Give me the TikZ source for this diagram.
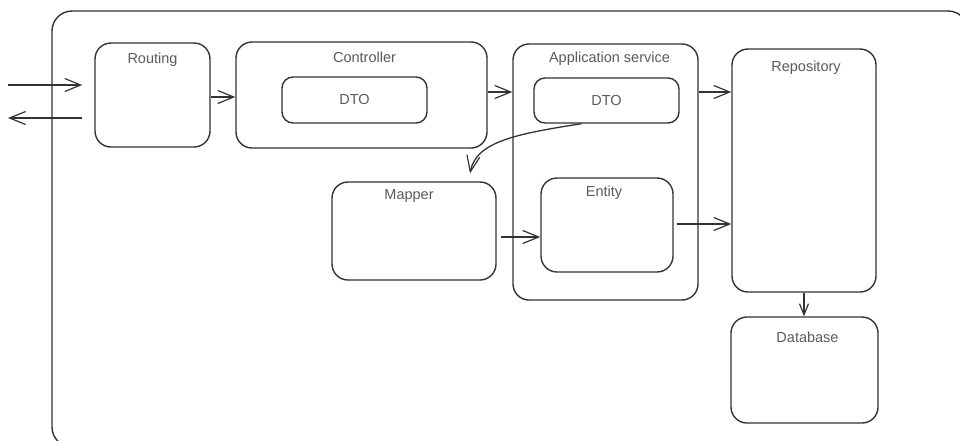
\documentclass[tikz,border=0pt]{standalone}
\usepackage{fontspec}
\setmainfont{Liberation Sans}
\usetikzlibrary{arrows.meta,calc}

\definecolor{edge}{HTML}{333333}
\definecolor{txt}{HTML}{5A5A5A}

\tikzset{
  box/.style={draw=edge, line width=1.4pt, rounded corners=#1, inner sep=0pt},
  box/.default=16pt,
  lbl/.style={text=txt, font=\fontsize{14.5}{17}\selectfont, inner sep=0pt},
  arr/.style={draw=edge, line width=1.3pt,
    -{Straight Barb[length=16pt,width=13pt,line width=1.2pt]}},
  arrs/.style={draw=edge, line width=1.3pt,
    -{Straight Barb[length=11pt,width=9pt,line width=1.2pt]}}
}

\begin{document}
\begin{tikzpicture}[x=1pt,y=-1pt]
  \useasboundingbox (0,0) rectangle (960,440);

  % outer frame, running just past the right and bottom edges
  \begin{scope}
    \clip (0,0) rectangle (960,440);
    \draw[draw=edge, line width=1.4pt, rounded corners=20pt] (52,11) rectangle (968,447);
  \end{scope}

  % boxes
  \node[box, minimum width=115, minimum height=104] (routing) at (152.5,95) {};
  \node[box, minimum width=251, minimum height=106] (controller) at (361.5,95) {};
  \node[box=11pt, minimum width=145, minimum height=46] (cdto) at (354.5,100) {};
  \node[box, minimum width=185, minimum height=256] (appsvc) at (605.5,172) {};
  \node[box=11pt, minimum width=145, minimum height=45] (adto) at (606.5,100.5) {};
  \node[box, minimum width=132, minimum height=94] (entity) at (607,225) {};
  \node[box, minimum width=164, minimum height=98] (mapper) at (414,231) {};
  \node[box, minimum width=144, minimum height=243] (repo) at (804,170.5) {};
  \node[box, minimum width=147, minimum height=106] (db) at (804.5,370) {};

  % labels
  \node[lbl] (routingL) at ($(routing.north)+(0,17)$) {Routing};
  \node[lbl] (controllerL) at ($(controller.north)+(3,16)$) {Controller};
  \node[lbl] (cdtoL) at (cdto.center) {DTO};
  \node[lbl] (appsvcL) at ($(appsvc.north)+(4,15)$) {Application service};
  \node[lbl] (adtoL) at (adto.center) {DTO};
  \node[lbl] (entityL) at ($(entity.north)+(-3,15)$) {Entity};
  \node[lbl] (mapperL) at ($(mapper.north)+(-5,15)$) {Mapper};
  \node[lbl] (repoL) at ($(repo.north)+(2,19)$) {Repository};
  \node[lbl] (dbL) at ($(db.north)+(3,21)$) {Database};

  % request / response ends
  \coordinate (inS) at (8,85);
  \coordinate (outE) at (8,118);

  % connectors
  \draw[arr] (inS) -- ($(routing.west)+(-12,-10)$);
  \draw[arr] ($(routing.west)+(-12,23)$) -- (outE);
  \draw[arr] ($(routing.east)+(0,2)$) -- ($(controller.west)+(0,2)$);
  \draw[arr] ($(controller.east)+(0,-3)$) -- ($(appsvc.west)+(0,-80)$);
  \draw[arr] ($(appsvc.east)+(0,-80)$) -- ($(repo.west)+(0,-78.5)$);
  \draw[arr] ($(adto.south)+(-25,0)$) .. controls (515,134) and (476,142) .. ($(mapper.north)+(56,-8)$);
  \draw[arr] ($(mapper.east)+(4,6)$) -- ($(entity.west)+(0,12)$);
  \draw[arr] ($(entity.east)+(3,-1)$) -- ($(repo.west)+(0,53.5)$);
  \draw[arrs] (repo.south) -- (repo.south |- db.north);
\end{tikzpicture}
\end{document}
